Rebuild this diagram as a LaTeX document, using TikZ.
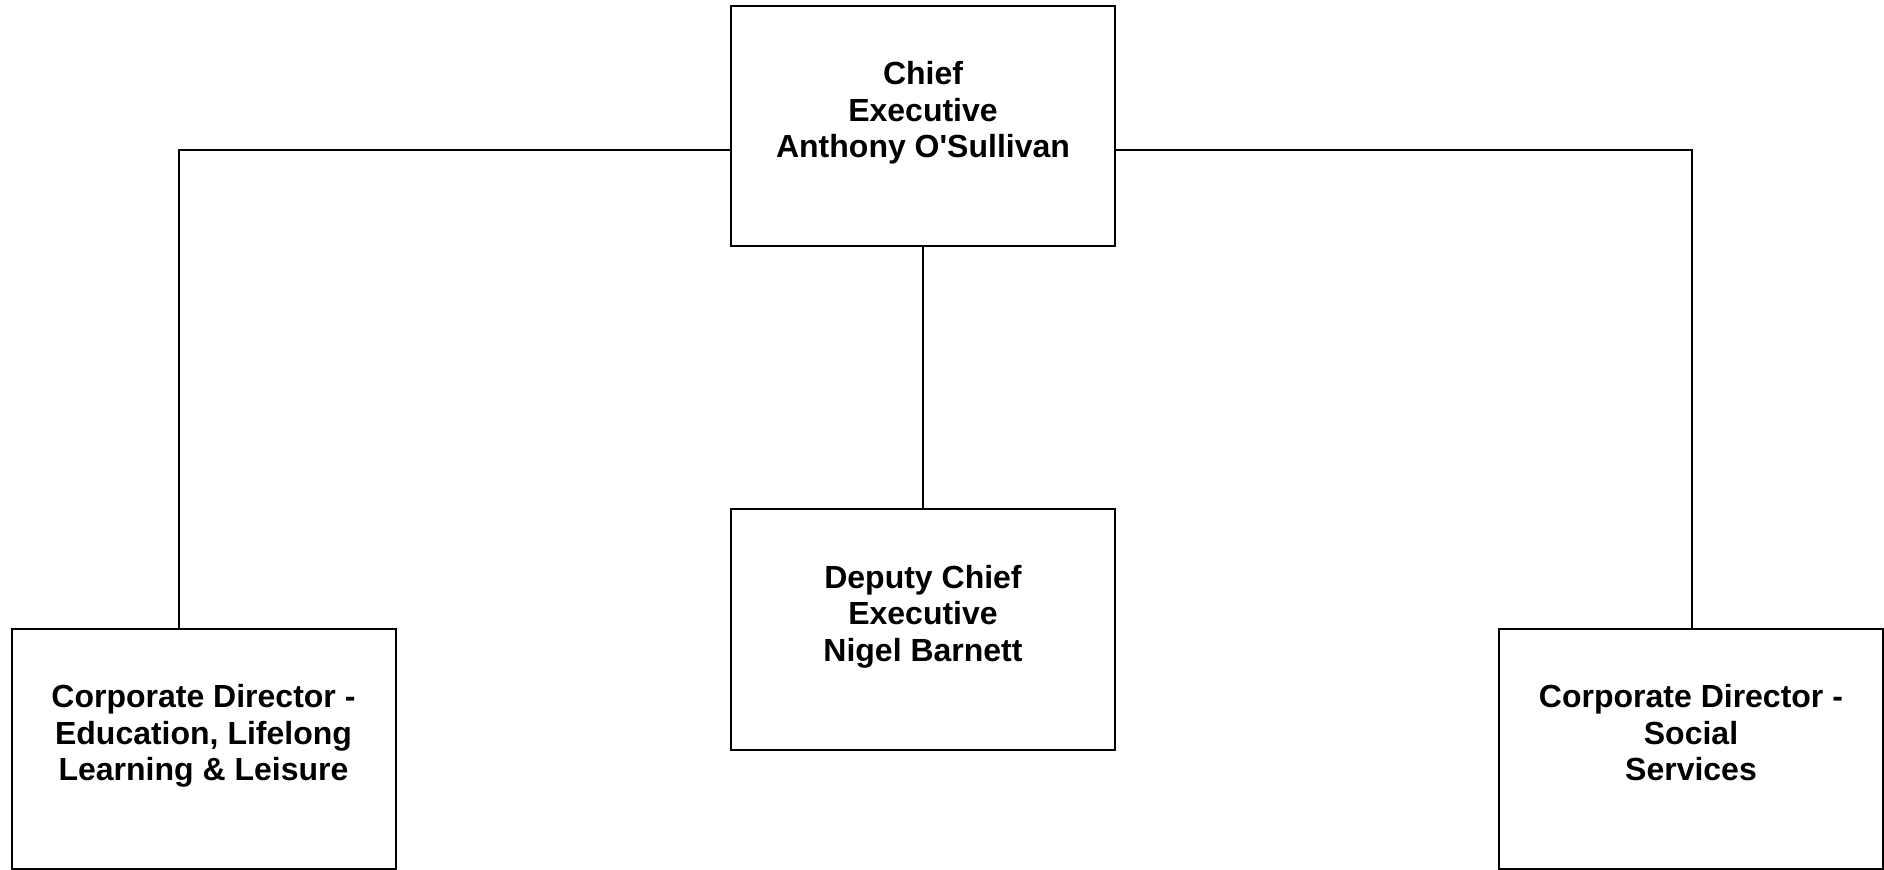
\documentclass[tikz,border=0pt]{standalone}
\usepackage{fontspec}
\setmainfont{Liberation Sans}[Ligatures=TeXOff]
\begin{document}
\begin{tikzpicture}[x=0.5pt,y=-0.5pt,
  box/.style={draw=black,line width=1pt,minimum width=192pt,minimum height=120pt,inner sep=0pt,fill=white},
  txt/.style={align=center,inner sep=0pt,font=\fontsize{16pt}{18.35pt}\selectfont\bfseries},
  conn/.style={draw=black,line width=0.9pt}]
\useasboundingbox (0,0) rectangle (1884,870);
\node[box] (chief) at (923,126) {};
\node[box] (deputy) at (923,629.5) {};
\node[box] (left) at (203.5,749) {};
\node[box] (right) at (1691,749) {};
\node[txt] (chiefT) at ([yshift=6.5pt]chief.center) {Chief\\Executive\\Anthony O'Sullivan};
\node[txt] (deputyT) at ([yshift=6.5pt]deputy.center) {Deputy Chief\\Executive\\Nigel Barnett};
\node[txt] (leftT) at ([yshift=6.5pt]left.center) {Corporate Director -\\Education, Lifelong\\Learning \& Leisure};
\node[txt] (rightT) at ([yshift=6.5pt]right.center) {Corporate Director -\\Social\\Services\vphantom{g}};
\coordinate (jl) at (179,150);
\coordinate (jr) at (1692,150);
\draw[conn] (chief.west |- jl) -- (jl) -- (jl |- left.north);
\draw[conn] (chief.east |- jr) -- (jr) -- (jr |- right.north);
\draw[conn] (chief.south) -- (deputy.north);
\end{tikzpicture}
\end{document}
